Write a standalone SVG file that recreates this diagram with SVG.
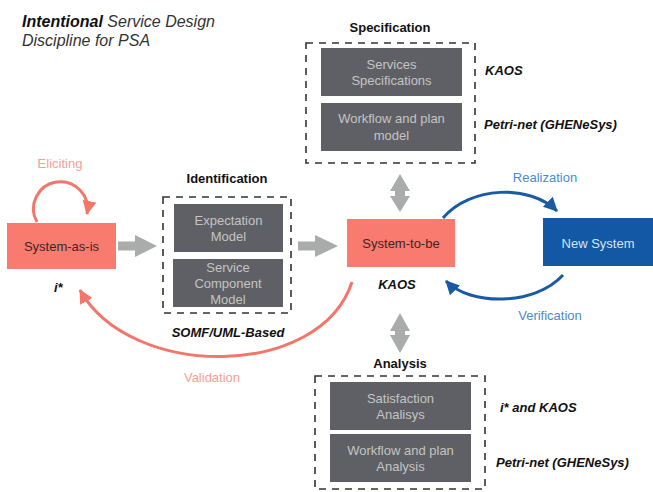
<svg xmlns="http://www.w3.org/2000/svg" width="653" height="492" viewBox="0 0 653 492">
<defs>
<style>
text{font-family:"Liberation Sans",Arial,sans-serif;}
.title{font-size:16px;font-style:italic;fill:#333;}
.sec{font-size:13px;font-weight:bold;fill:#111;text-anchor:middle;}
.lang{font-size:13px;font-weight:bold;font-style:italic;fill:#111;}
.dash{fill:none;stroke:#333;stroke-width:1.6;stroke-dasharray:7 6;}
.gbox{fill:#5e6065;}
.gtxt{font-size:13px;fill:#c4c4c4;text-anchor:middle;}
.sys{fill:#f97a6f;}
.systxt{font-size:13px;fill:#3a2626;text-anchor:middle;}
.newsys{fill:#1258a5;}
.newtxt{font-size:13px;fill:#d8e4f0;text-anchor:middle;}
.red{fill:none;stroke:#f4756a;stroke-width:3;}
.blue{fill:none;stroke:#1a5aa3;stroke-width:3;}
.redlbl{font-size:13px;fill:#f7a097;text-anchor:middle;}
.bluelbl{font-size:13px;fill:#4b8acb;text-anchor:middle;}
.garrow{fill:#aaacab;}
</style>
<marker id="mred" markerUnits="userSpaceOnUse" markerWidth="16" markerHeight="16" refX="13" refY="8" orient="auto">
<path d="M0,1 L14,8 L0,15 Z" fill="#f4756a"/>
</marker>
<marker id="mblue" markerUnits="userSpaceOnUse" markerWidth="16" markerHeight="16" refX="13" refY="8" orient="auto">
<path d="M0,1 L14,8 L0,15 Z" fill="#1a5aa3"/>
</marker>
</defs>
<rect width="653" height="492" fill="#fff"/>

<g id="title">
<text class="title" x="22" y="27"><tspan font-weight="bold" fill="#111">Intentional</tspan> Service Design</text>
<text class="title" x="22" y="46">Discipline for PSA</text>
</g>

<g id="connectors">
<path class="red" d="M37,222 A27,27 0 1 1 87,214" marker-end="url(#mred)"/>
<path class="red" stroke-width="2.5" d="M352,282 C320,380 130,380 80,290" marker-end="url(#mred)"/>
<path class="blue" d="M443,218 C470,186 530,184 557,211" marker-end="url(#mblue)"/>
<path class="blue" d="M563,275 C535,306 470,306 446,281" marker-end="url(#mblue)"/>
<polygon class="garrow" points="118,241.5 135,241.5 135,235 157,246 135,257 135,250.5 118,250.5"/>
<polygon class="garrow" points="298,241.5 315,241.5 315,235 338,246 315,257 315,250.5 298,250.5"/>
<polygon class="garrow" points="400,174 410,191 405,191 405,196 410,196 400,212 390,196 395,196 395,191 390,191"/>
<polygon class="garrow" points="400,313 410,331 405,331 405,335 410,335 400,353 390,335 395,335 395,331 390,331"/>
<text class="redlbl" x="60" y="168">Eliciting</text>
<text class="redlbl" x="212" y="382">Validation</text>
<text class="bluelbl" x="545" y="182">Realization</text>
<text class="bluelbl" x="550" y="320">Verification</text>
</g>

<g id="system-as-is">
<rect class="sys" x="7" y="223" width="109" height="46"/>
<text class="systxt" x="61.5" y="251">System-as-is</text>
<text class="lang" x="54" y="292">i*</text>
</g>

<g id="identification">
<text class="sec" x="227" y="183">Identification</text>
<rect class="dash" x="163" y="197" width="128" height="116"/>
<rect class="gbox" x="174" y="204" width="109" height="48"/>
<text class="gtxt" x="228.5" y="225">Expectation</text>
<text class="gtxt" x="228.5" y="241">Model</text>
<rect class="gbox" x="173" y="259" width="110" height="48"/>
<text class="gtxt" x="228" y="272">Service</text>
<text class="gtxt" x="228" y="288">Component</text>
<text class="gtxt" x="228" y="304">Model</text>
<text class="lang" x="228" y="337" text-anchor="middle">SOMF/UML-Based</text>
</g>

<g id="system-to-be">
<rect class="sys" x="347" y="219" width="108" height="48"/>
<text class="systxt" x="401" y="248">System-to-be</text>
<text class="lang" x="397" y="289" text-anchor="middle">KAOS</text>
</g>

<g id="new-system">
<rect class="newsys" x="543" y="218" width="110" height="48"/>
<text class="newtxt" x="598" y="248">New System</text>
</g>

<g id="specification">
<text class="sec" x="390" y="32">Specification</text>
<rect class="dash" x="306" y="43" width="169" height="120"/>
<rect class="gbox" x="321" y="48" width="141" height="48"/>
<text class="gtxt" x="391.5" y="69">Services</text>
<text class="gtxt" x="391.5" y="85">Specifications</text>
<rect class="gbox" x="321" y="103" width="141" height="48"/>
<text class="gtxt" x="391.5" y="123">Workflow and plan</text>
<text class="gtxt" x="391.5" y="140">model</text>
<text class="lang" x="485" y="75">KAOS</text>
<text class="lang" x="484" y="129">Petri-net (GHENeSys)</text>
</g>

<g id="analysis">
<text class="sec" x="400" y="368">Analysis</text>
<rect class="dash" x="315" y="376" width="170" height="113"/>
<rect class="gbox" x="330" y="382" width="141" height="48"/>
<text class="gtxt" x="400.5" y="403">Satisfaction</text>
<text class="gtxt" x="400.5" y="419">Analisys</text>
<rect class="gbox" x="330" y="434" width="141" height="48"/>
<text class="gtxt" x="400.5" y="455">Workflow and plan</text>
<text class="gtxt" x="400.5" y="471">Analysis</text>
<text class="lang" x="500" y="412">i* and KAOS</text>
<text class="lang" x="496" y="467">Petri-net (GHENeSys)</text>
</g>
</svg>
